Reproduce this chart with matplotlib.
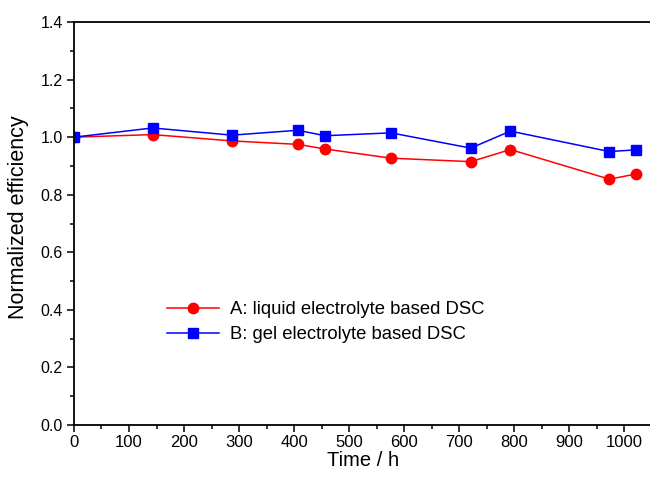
import numpy as np
import matplotlib.pyplot as plt
from matplotlib.ticker import MultipleLocator

plt.rcParams['font.family'] = ['Liberation Sans', 'DejaVu Sans']

# Datos
tiempo = [0, 143, 287, 407, 456, 576, 721, 793, 973, 1021]
liquido = [1.0, 1.009, 0.987, 0.975, 0.959, 0.927, 0.915, 0.957, 0.854, 0.872]
gel = [1.0, 1.032, 1.007, 1.024, 1.005, 1.015, 0.962, 1.021, 0.950, 0.956]

fig = plt.figure(figsize=(6.5, 4.79), dpi=100)
ax = fig.add_axes([0.1138, 0.1127, 0.889, 0.8413])

ax.plot(tiempo, liquido, color="#ff0000", marker="o", markersize=7.5, lw=1.1,
        label="A: liquid electrolyte based DSC")
ax.plot(tiempo, gel, color="#0000ff", marker="s", markersize=6.5, lw=1.1,
        label="B: gel electrolyte based DSC")

ax.set_xlim(0, 1050)
ax.set_ylim(0, 1.4)
ax.xaxis.set_major_locator(MultipleLocator(100))
ax.xaxis.set_minor_locator(MultipleLocator(50))
ax.yaxis.set_major_locator(MultipleLocator(0.2))
ax.yaxis.set_minor_locator(MultipleLocator(0.1))
ax.yaxis.set_major_formatter(plt.FormatStrFormatter('%.1f'))

ax.tick_params(which="major", direction="out", length=5, width=1.1, pad=2)
ax.tick_params(which="minor", direction="out", length=3, width=1.1)
ax.tick_params(axis="x", labelsize=12)
ax.tick_params(axis="y", labelsize=11.5, pad=3)
ax.tick_params(top=False, right=False, which="both")
for s in ax.spines.values():
    s.set_linewidth(1.3)

ax.set_xlabel("Time / h", fontsize=14.5, labelpad=1)
ax.set_ylabel("Normalized efficiency", fontsize=15.5)
ax.yaxis.set_label_coords(-0.078, 0.515)

ax.legend(loc="upper left", bbox_to_anchor=(0.161, 0.307), frameon=False,
          fontsize=13.3, handlelength=2.8, labelspacing=0.42, handletextpad=0.6,
          borderpad=0, borderaxespad=0)

fig.savefig("out.png", dpi=100)
